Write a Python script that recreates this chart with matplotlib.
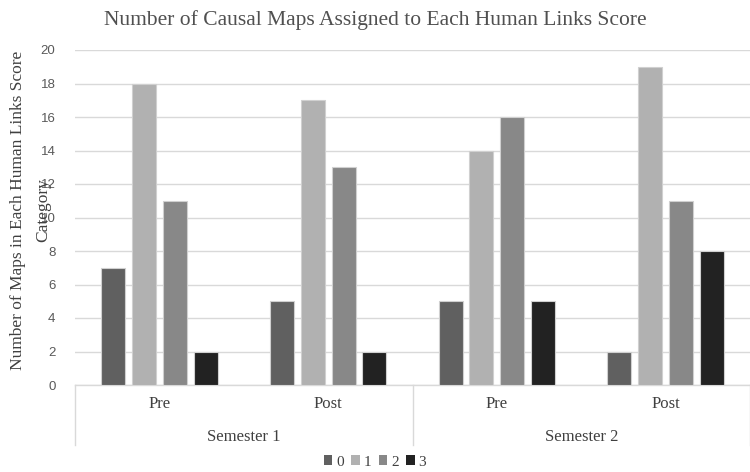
import matplotlib
matplotlib.use("Agg")
import matplotlib.pyplot as plt
import matplotlib.transforms as mtransforms
from matplotlib.patches import Patch
import numpy as np

categories = ["Pre", "Post", "Pre", "Post"]
semesters = ["Semester 1", "Semester 2"]
series_names = ["0", "1", "2", "3"]
score0 = [7, 5, 5, 2]
score1 = [18, 17, 14, 19]
score2 = [11, 13, 16, 11]
score3 = [2, 2, 5, 8]
series_values = [score0, score1, score2, score3]
colors = ["#606060", "#b1b1b1", "#888888", "#222222"]
yticks = [0, 2, 4, 6, 8, 10, 12, 14, 16, 18, 20]

fig = plt.figure(figsize=(7.5, 4.72), dpi=100)
ax = fig.add_axes([75/750, 1-385/472, 675/750, 335/472])

x = np.arange(len(categories))
bw = 0.142
step = 0.183
for i, vals in enumerate(series_values):
    off = (i - 1.5) * step
    ax.bar(x + off, vals, width=bw, color=colors[i], edgecolor="#d0d0d0",
           linewidth=0.8, zorder=3, label=series_names[i])

ax.set_xlim(-0.5, 3.5)
ax.set_ylim(0, 20)
ax.set_yticks(yticks)
ax.set_yticklabels([str(t) for t in yticks], fontsize=9.5,
                   family="Liberation Sans", color="#595959")
ax.tick_params(axis="y", length=0, pad=14)
ax.tick_params(axis="x", length=0, labelbottom=False)
ax.yaxis.grid(True, color="#d9d9d9", linewidth=1, zorder=0)
for s in ["top", "right", "left"]:
    ax.spines[s].set_visible(False)
ax.spines["bottom"].set_color("#d9d9d9")
ax.spines["bottom"].set_linewidth(1)

trans = mtransforms.blended_transform_factory(ax.transData, ax.transAxes)
lowy = -(445-385)/335
for xv in [-0.5, 1.5, 3.5]:
    ax.plot([xv, xv], [0, lowy], transform=trans, color="#d9d9d9",
            linewidth=1, clip_on=False)

for i, c in enumerate(categories):
    ax.text(i, -(404-385)/335, c, transform=trans, ha="center", va="center",
            fontsize=12, family="Liberation Serif", color="#404040")
for j, s in enumerate(semesters):
    ax.text(2*j + 0.5, -(437-385)/335, s, transform=trans, ha="center", va="center",
            fontsize=12, family="Liberation Serif", color="#404040")

fig.text(0.5, 1-20/472, "Number of Causal Maps Assigned to Each Human Links Score",
         ha="center", va="center", fontsize=15.5, family="Liberation Serif", color="#505050")

fig.text(31/750, 1-210/472, "Number of Maps in Each Human Links Score\nCategory",
         ha="center", va="center", rotation=90, fontsize=12.5,
         family="Liberation Serif", color="#404040", linespacing=1.75)

handles = [Patch(facecolor=colors[i], edgecolor="none") for i in range(4)]
leg = fig.legend(handles, series_names, loc="center", bbox_to_anchor=(0.5, 1-462/472),
           ncol=4, frameon=False, handlelength=0.55, handleheight=0.55,
           handletextpad=0.25, columnspacing=0.5,
           prop={"family": "Liberation Serif", "size": 11})
for t in leg.get_texts():
    t.set_color("#404040")

fig.savefig("out.png", dpi=100)
